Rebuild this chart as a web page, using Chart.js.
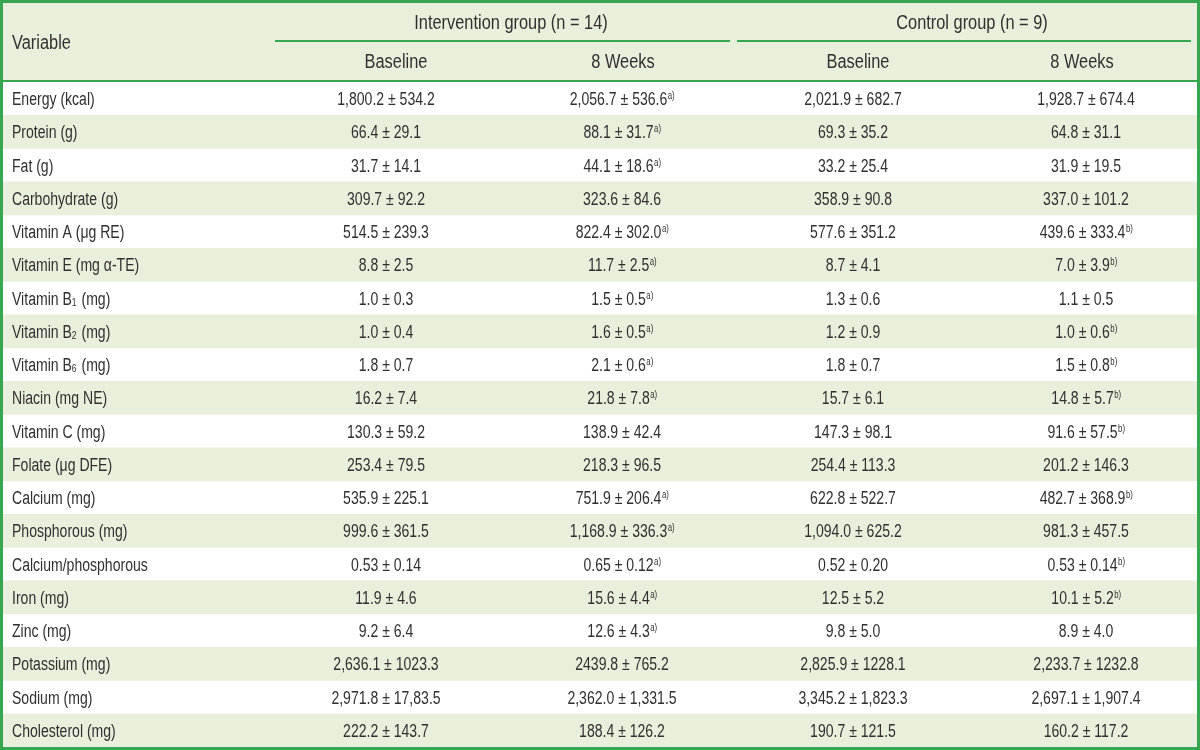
<!DOCTYPE html>
<html>
<head>
<meta charset="utf-8">
<script src="https://cdn.jsdelivr.net/npm/chart.js@4/dist/chart.umd.min.js"></script>
<style>
  html, body { margin: 0; padding: 0; background: #fff; }
  canvas { display: block; }
</style>
</head>
<body>
<canvas id="myChart" width="1200" height="750"></canvas>
<script>
// dati della tabella (stringhe come nell'originale)
const variables = ['Energy (kcal)', 'Protein (g)', 'Fat (g)', 'Carbohydrate (g)', 'Vitamin A (\u03bcg RE)',
  'Vitamin E (mg \u03b1-TE)', 'Vitamin B_1 (mg)', 'Vitamin B_2 (mg)', 'Vitamin B_6 (mg)', 'Niacin (mg NE)',
  'Vitamin C (mg)', 'Folate (\u03bcg DFE)', 'Calcium (mg)', 'Phosphorous (mg)', 'Calcium/phosphorous',
  'Iron (mg)', 'Zinc (mg)', 'Potassium (mg)', 'Sodium (mg)', 'Cholesterol (mg)'];

const intBaseline = ['1,800.2±534.2', '66.4±29.1', '31.7±14.1', '309.7±92.2', '514.5±239.3', '8.8±2.5', '1.0±0.3',
  '1.0±0.4', '1.8±0.7', '16.2±7.4', '130.3±59.2', '253.4±79.5', '535.9±225.1', '999.6±361.5', '0.53±0.14',
  '11.9±4.6', '9.2±6.4', '2,636.1±1023.3', '2,971.8±17,83.5', '222.2±143.7'];
const int8Weeks = ['2,056.7±536.6', '88.1±31.7', '44.1±18.6', '323.6±84.6', '822.4±302.0', '11.7±2.5', '1.5±0.5',
  '1.6±0.5', '2.1±0.6', '21.8±7.8', '138.9±42.4', '218.3±96.5', '751.9±206.4', '1,168.9±336.3', '0.65±0.12',
  '15.6±4.4', '12.6±4.3', '2439.8±765.2', '2,362.0±1,331.5', '188.4±126.2'];
const int8WeeksSig = ['a)', 'a)', 'a)', '', 'a)', 'a)', 'a)', 'a)', 'a)', 'a)', '', '', 'a)', 'a)', 'a)', 'a)', 'a)', '', '', ''];

const ctrlBaseline = ['2,021.9±682.7', '69.3±35.2', '33.2±25.4', '358.9±90.8', '577.6±351.2', '8.7±4.1', '1.3±0.6',
  '1.2±0.9', '1.8±0.7', '15.7±6.1', '147.3±98.1', '254.4±113.3', '622.8±522.7', '1,094.0±625.2', '0.52±0.20',
  '12.5±5.2', '9.8±5.0', '2,825.9±1228.1', '3,345.2±1,823.3', '190.7±121.5'];
const ctrl8Weeks = ['1,928.7±674.4', '64.8±31.1', '31.9±19.5', '337.0±101.2', '439.6±333.4', '7.0±3.9', '1.1±0.5',
  '1.0±0.6', '1.5±0.8', '14.8±5.7', '91.6±57.5', '201.2±146.3', '482.7±368.9', '981.3±457.5', '0.53±0.14',
  '10.1±5.2', '8.9±4.0', '2,233.7±1232.8', '2,697.1±1,907.4', '160.2±117.2'];
const ctrl8WeeksSig = ['', '', '', '', 'b)', 'b)', '', 'b)', 'b)', 'b)', 'b)', '', 'b)', '', 'b)', 'b)', '', '', '', ''];

const groupTitles = ['Intervention group (n = 14)', 'Control group (n = 9)'];
const subTitles = ['Baseline', '8 Weeks', 'Baseline', '8 Weeks'];

// stile
const FONT = '"Liberation Sans", Arial, sans-serif';
const SX = 0.78;   // compressione orizzontale corpo tabella
const SXH = 0.84;  // compressione intestazione
const TEXT = '#303030';
const GREEN = '#36a651';
const SHADE = '#e8f0dc';
const headCenters = [396, 623, 858, 1082]; // centri intestazioni (scala x)
const valCenters = [386, 622, 853, 1086];  // centri valori (scala x)
const groupCenters = [511, 972];

function width(ctx, s, size) {
  ctx.font = size + 'px ' + FONT;
  return ctx.measureText(s).width * SX;
}

function txt(ctx, s, x, y, size, align, sx) {
  ctx.save();
  ctx.font = size + 'px ' + FONT;
  ctx.textAlign = align || 'left';
  ctx.translate(x, y);
  ctx.scale(sx || SX, 1);
  ctx.fillText(s, 0, 0);
  ctx.restore();
}

function drawLabel(ctx, label, x, y) {
  // '_n' = pedice
  const parts = label.split(/_(\d)/);
  for (let i = 0; i < parts.length; i++) {
    if (i % 2 === 1) {
      txt(ctx, parts[i], x, y + 1, 11);
      x += width(ctx, parts[i], 11) + 1;
    } else {
      txt(ctx, parts[i], x, y, 18);
      x += width(ctx, parts[i], 18);
    }
  }
}

function drawValue(ctx, value, sig, cx, y) {
  const v = value.replace('±', ' ± ');
  const w1 = width(ctx, v, 18);
  const w2 = sig ? width(ctx, sig, 10) : 0;
  const x = cx - (w1 + w2) / 2;
  txt(ctx, v, x, y, 18);
  if (sig) txt(ctx, sig, x + w1 + 0.5, y - 6, 10);
}

const tablePlugin = {
  id: 'tablePlugin',
  beforeDraw(chart) {
    const ctx = chart.ctx;
    ctx.save();
    ctx.fillStyle = '#fff';
    ctx.fillRect(0, 0, chart.width, chart.height);
    ctx.fillStyle = SHADE;
    ctx.fillRect(0, 0, chart.width, chart.chartArea.top);
    ctx.restore();
  },
  afterDatasetsDraw(chart) {
    const ctx = chart.ctx;
    const xs = chart.scales.x, ys = chart.scales.y;
    const top = chart.chartArea.top;
    ctx.save();
    ctx.fillStyle = TEXT;
    ctx.textBaseline = 'alphabetic';

    // intestazione
    txt(ctx, 'Variable', 12, 48.5, 19.5, 'left', SXH);
    groupTitles.forEach((t, i) => txt(ctx, t, xs.getPixelForValue(groupCenters[i]), 29, 19.5, 'center', SXH));
    subTitles.forEach((t, i) => txt(ctx, t, xs.getPixelForValue(headCenters[i]), 68, 19.5, 'center', SXH));

    ctx.strokeStyle = GREEN;
    ctx.lineWidth = 2;
    ctx.beginPath();
    ctx.moveTo(275, 41); ctx.lineTo(730, 41);
    ctx.moveTo(737, 41); ctx.lineTo(1191, 41);
    ctx.moveTo(0, top - 1); ctx.lineTo(chart.width, top - 1);
    ctx.stroke();

    // righe
    variables.forEach((v, i) => {
      const y = ys.getPixelForValue(i) + 6.5;
      drawLabel(ctx, v, 12, y);
      drawValue(ctx, intBaseline[i], '', xs.getPixelForValue(valCenters[0]), y);
      drawValue(ctx, int8Weeks[i], int8WeeksSig[i], xs.getPixelForValue(valCenters[1]), y);
      drawValue(ctx, ctrlBaseline[i], '', xs.getPixelForValue(valCenters[2]), y);
      drawValue(ctx, ctrl8Weeks[i], ctrl8WeeksSig[i], xs.getPixelForValue(valCenters[3]), y);
    });

    // bordo esterno
    ctx.lineWidth = 3;
    ctx.strokeRect(1.5, 1.5, chart.width - 3, chart.height - 3);
    ctx.restore();
  }
};

const ctx = document.getElementById('myChart').getContext('2d');
const myChart = new Chart(ctx, {
  type: 'bar',
  data: {
    labels: variables,
    datasets: [{
      data: variables.map((v, i) => i % 2 === 1 ? [0, 1200] : null), // righe alterne colorate
      backgroundColor: SHADE,
      borderWidth: 0,
      barPercentage: 1,
      categoryPercentage: 1
    }]
  },
  options: {
    indexAxis: 'y',
    responsive: false,
    animation: false,
    devicePixelRatio: 1,
    layout: { padding: { top: 82, bottom: 3, left: 0, right: 0 } },
    plugins: { legend: { display: false }, tooltip: { enabled: false } },
    scales: {
      x: { type: 'linear', min: 0, max: 1200, display: false },
      y: { type: 'category', display: false }
    }
  },
  plugins: [tablePlugin]
});
</script>
</body>
</html>
